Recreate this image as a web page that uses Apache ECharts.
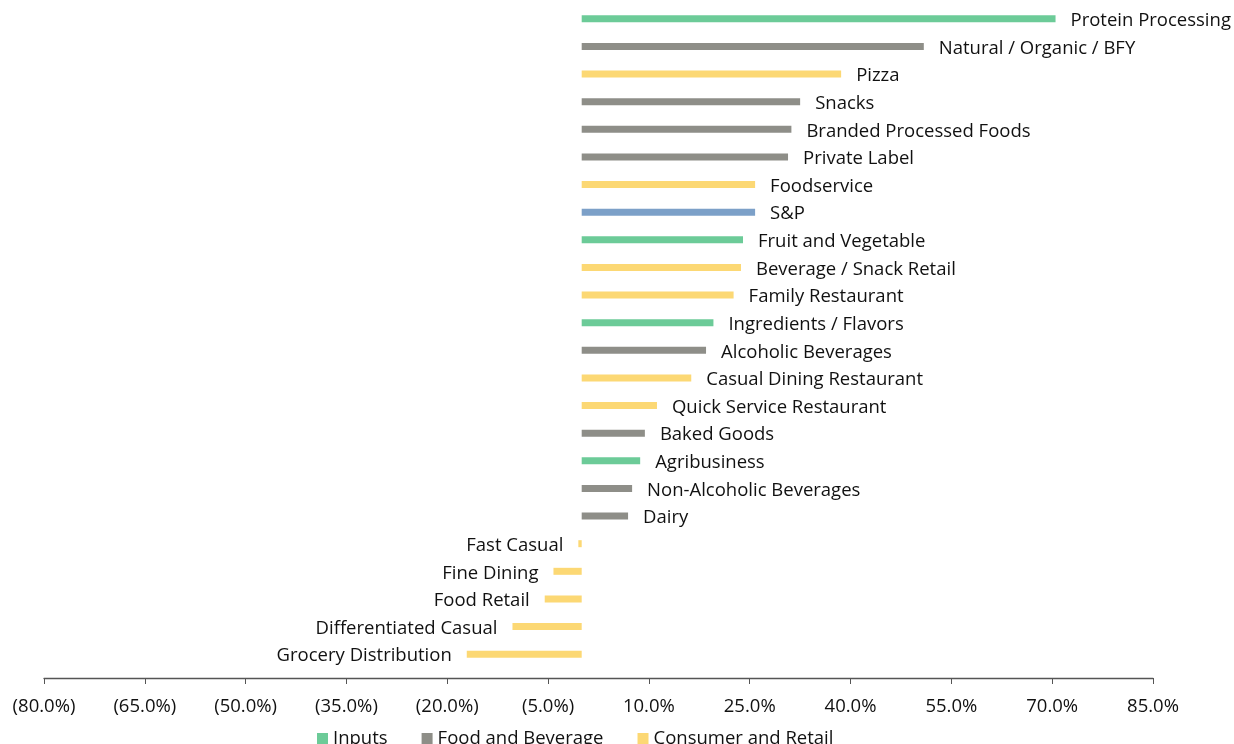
<!DOCTYPE html>
<html>
<head>
<meta charset="utf-8">
<script src="https://cdn.jsdelivr.net/npm/echarts@6/dist/echarts.min.js"></script>
<style>
html,body{margin:0;padding:0;background:#fff;}
#chart{width:1234px;height:744px;}
</style>
</head>
<body>
<div id="chart"></div>
<script>
const categories = ["Protein Processing","Natural / Organic / BFY","Pizza","Snacks","Branded Processed Foods","Private Label","Foodservice","S&P","Fruit and Vegetable","Beverage / Snack Retail","Family Restaurant","Ingredients / Flavors","Alcoholic Beverages","Casual Dining Restaurant","Quick Service Restaurant","Baked Goods","Agribusiness","Non-Alcoholic Beverages","Dairy","Fast Casual","Fine Dining","Food Retail","Differentiated Casual","Grocery Distribution"];
const values = [70.5,50.9,38.6,32.5,31.2,30.7,25.8,25.8,24.0,23.7,22.6,19.6,18.5,16.3,11.2,9.4,8.7,7.5,6.9,-0.5,-4.2,-5.5,-10.3,-17.1];
const groups = ["Inputs","Food and Beverage","Consumer and Retail","Food and Beverage","Food and Beverage","Food and Beverage","Consumer and Retail","S&P","Inputs","Consumer and Retail","Consumer and Retail","Inputs","Food and Beverage","Consumer and Retail","Consumer and Retail","Food and Beverage","Inputs","Food and Beverage","Food and Beverage","Consumer and Retail","Consumer and Retail","Consumer and Retail","Consumer and Retail","Consumer and Retail"];
const seriesNames = ["Inputs","Food and Beverage","Consumer and Retail","S&P"];
const seriesColors = {"Inputs":"#6CCB98","Food and Beverage":"#8E8E88","Consumer and Retail":"#FCD874","S&P":"#7CA0C8"};
const axisMin = -80, axisMax = 85, axisStep = 15;

const FONT = "Open Sans";
const FS = 18.5;
const series = seriesNames.map(name => ({
  name: name,
  type: 'bar',
  stack: 'all',
  barWidth: 7,
  itemStyle: {color: seriesColors[name]},
  label: {show: true, formatter: '{b}', color: '#111', fontFamily: FONT, fontSize: FS, distance: 15, position: 'right', offset: [0, 2]},
  data: values.map((v, i) => groups[i] === name
    ? (v < 0 ? {value: v, label: {position: 'left'}} : v)
    : null)
}));

const chart = echarts.init(document.getElementById('chart'));
chart.setOption({
  animation: false,
  grid: {left: 44, right: 81, top: 5, bottom: 76, containLabel: false},
  legend: {
    data: ["Inputs","Food and Beverage","Consumer and Retail"],
    left: 312, top: 724,
    icon: 'rect', itemWidth: 11, itemHeight: 11, itemGap: 34,
    textStyle: {fontFamily: FONT, fontSize: FS, color: '#111'}
  },
  xAxis: {
    type: 'value', min: axisMin, max: axisMax, interval: axisStep, offset: 10,
    axisLine: {show: true, lineStyle: {color: '#555', width: 1.3}},
    axisTick: {show: true, length: 6, lineStyle: {color: '#555'}},
    splitLine: {show: false},
    axisLabel: {
      fontFamily: FONT, fontSize: FS, color: '#111', margin: 19,
      formatter: v => v < 0 ? '(' + Math.abs(v).toFixed(1) + '%)' : v.toFixed(1) + '%'
    }
  },
  yAxis: {
    type: 'category', data: categories, inverse: true,
    axisLine: {show: false}, axisTick: {show: false}, axisLabel: {show: false}
  },
  series: series
});
</script>
</body>
</html>
